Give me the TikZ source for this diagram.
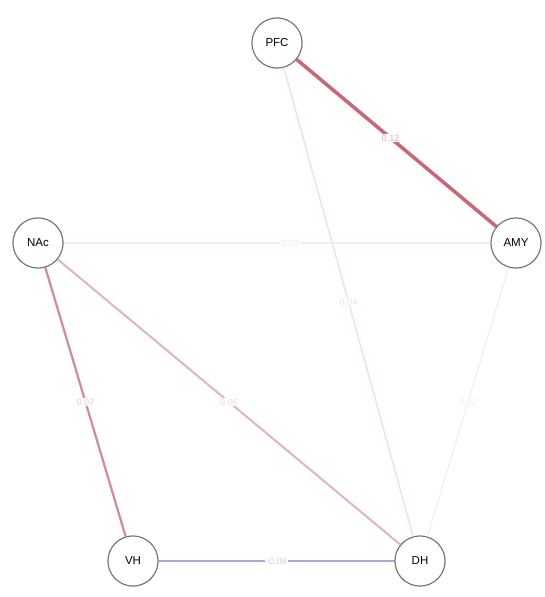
\documentclass[tikz,border=0pt]{standalone}
\usepackage{fontspec}
\setmainfont{Liberation Sans}
\definecolor{eAmy}{HTML}{CC6672}
\definecolor{eVH}{HTML}{D58A96}
\definecolor{eDH}{HTML}{E2B4BC}
\definecolor{eBlue}{HTML}{A6A6E2}
\definecolor{eFaintR}{HTML}{F6E8EB}
\definecolor{eFaintR2}{HTML}{F3E0E4}
\definecolor{eFaintB}{HTML}{ECECF4}
\begin{document}
\begin{tikzpicture}[x=1pt,y=-1pt,
  vnode/.style={circle,draw=black!55,line width=1pt,fill=white,minimum size=50pt,inner sep=0pt,font=\fontsize{11.5}{12}\selectfont},
  elabel/.style={fill=white,inner sep=1pt,font=\fontsize{9}{10}\selectfont}]
\useasboundingbox (0,0) rectangle (544,597);
\node[vnode] (PFC) at (277,43) {PFC};
\node[vnode] (AMY) at (516,243) {AMY};
\node[vnode] (NAc) at (38,243) {NAc};
\node[vnode] (VH) at (133,561) {VH};
\node[vnode] (DH) at (420,561) {DH};
\draw[eFaintR,line width=1.5pt] (NAc) -- node[elabel,text=eFaintR,pos=0.53]{0.03} (AMY);
\draw[eFaintR2,line width=1.5pt] (PFC) -- node[elabel,text=eFaintR2,pos=0.5]{0.04} (DH);
\draw[eFaintB,line width=1pt] (AMY) -- node[elabel,text=eFaintB,pos=0.5]{0.02} (DH);
\draw[eAmy,line width=3.5pt] (PFC) -- node[elabel,text=eAmy!50!white,pos=0.47]{0.12} (AMY);
\draw[eVH,line width=2.2pt] (NAc) -- node[elabel,text=eVH!45!white,pos=0.5]{0.07} (VH);
\draw[eDH,line width=2pt] (NAc) -- node[elabel,text=eDH!50!white,pos=0.5]{0.06} (DH);
\draw[eBlue,line width=2.8pt] (VH) -- node[elabel,text=eBlue!55!white,pos=0.5]{-0.08} (DH);
\node[vnode] at (PFC) {PFC};
\node[vnode] at (AMY) {AMY};
\node[vnode] at (NAc) {NAc};
\node[vnode] at (VH) {VH};
\node[vnode] at (DH) {DH};
\end{tikzpicture}
\end{document}
